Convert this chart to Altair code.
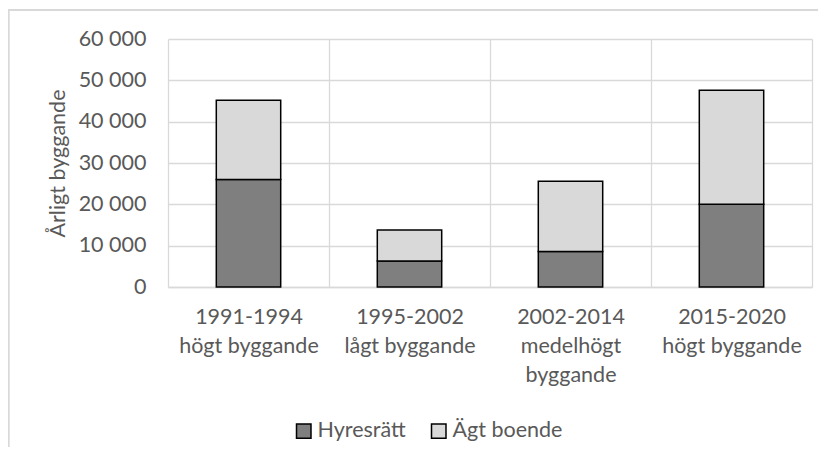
import altair as alt
import pandas as pd

periods = ["1991-1994|högt byggande", "1995-2002|lågt byggande",
           "2002-2014|medelhögt|byggande", "2015-2020|högt byggande"]
series = ["Hyresrätt", "Ägt boende"]
hyresratt = [26000, 6300, 8600, 20000]
total = [45200, 13800, 25600, 47600]
agt = [t - h for t, h in zip(total, hyresratt)]

rows = []
for i, p in enumerate(periods):
    rows.append({"period": p, "serie": series[0], "value": hyresratt[i], "ord": 0})
    rows.append({"period": p, "serie": series[1], "value": agt[i], "ord": 1})
df = pd.DataFrame(rows)

FONT = "Lato"
FS = 21.5
TXT = "#595959"
GRID = "#d9d9d9"

bars = alt.Chart(df).mark_bar(
    width=alt.RelativeBandSize(0.4), stroke="black", strokeWidth=1.5
).encode(
    x=alt.X("period:N", sort=periods, title=None,
            scale=alt.Scale(paddingInner=0, paddingOuter=0),
            axis=alt.Axis(labelAngle=0, tickBand="extent", grid=True,
                          gridColor=GRID, gridWidth=1.3, ticks=False,
                          domainColor=GRID, domainWidth=1.3,
                          labelExpr="split(datum.label, '|')",
                          labelLineHeight=29, labelPadding=19,
                          labelFontSize=FS, labelFont=FONT, labelColor=TXT)),
    y=alt.Y("value:Q", stack="zero", title="Årligt byggande",
            scale=alt.Scale(domain=[0, 60000]),
            axis=alt.Axis(values=[0, 10000, 20000, 30000, 40000, 50000, 60000],
                          labelExpr="replace(format(datum.value, ','), ',', ' ')",
                          domain=False, ticks=False, tickSize=0, labelPadding=22,
                          gridColor=GRID, gridWidth=1.3,
                          labelFontSize=FS, labelFont=FONT, labelColor=TXT,
                          titleFontSize=FS, titleFont=FONT, titleColor=TXT,
                          titleFontWeight="normal", titleAngle=-90,
                          titleX=-110, titleY=124, titleAlign="center",
                          titleBaseline="middle")),
    color=alt.Color("serie:N", sort=series,
                    scale=alt.Scale(domain=series, range=["#7f7f7f", "#d9d9d9"]),
                    legend=alt.Legend(title=None, orient="none", direction="horizontal",
                                      legendX=125, legendY=381, padding=0,
                                      symbolType="square",
                                      symbolSize=210, symbolStrokeColor="black",
                                      symbolStrokeWidth=1.5, labelFontSize=FS,
                                      labelFont=FONT, labelColor=TXT, columnPadding=22,
                                      labelOffset=3)),
    order=alt.Order("ord:Q", sort="ascending"),
)

frame_left = alt.Chart(df).mark_rule(color=GRID, strokeWidth=1.3, clip=False).encode(
    x=alt.value(-159.5), y=alt.value(-29), y2=alt.value(460))
frame_top = alt.Chart(df).mark_rule(color=GRID, strokeWidth=1.3, clip=False).encode(
    x=alt.value(-160), x2=alt.value(700), y=alt.value(-29))

chart = alt.layer(frame_left, frame_top, bars).properties(
    width=644, height=248,
    autosize=alt.AutoSizeParams(type="none"),
    padding={"left": 160, "top": 31, "right": 6, "bottom": 160},
).configure_view(stroke=None)

chart.save("out.html", embed_options={"renderer": "svg", "actions": False})
